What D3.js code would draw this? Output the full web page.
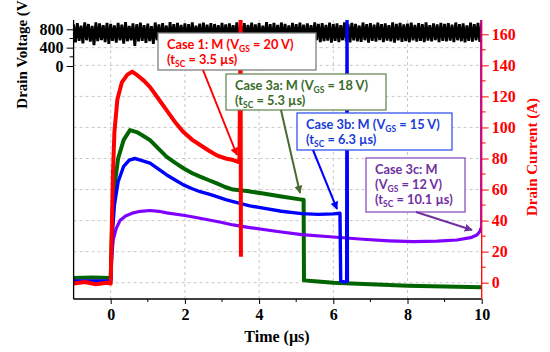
<!DOCTYPE html>
<html><head><meta charset="utf-8">
<script src="https://cdn.jsdelivr.net/npm/d3@7"></script>
<style>body{margin:0;background:#fff}svg{display:block}</style>
</head><body><svg id="c" width="550" height="352"></svg>
<script>
// ---------- data ----------
const xTicks = [0, 2, 4, 6, 8, 10];
const xMinor = [1, 3, 5, 7, 9];
const vTicks = [0, 400, 800];
const vMinor = [200, 600];
const iTicks = [0, 20, 40, 60, 80, 100, 120, 140, 160];
const iMinor = [10, 30, 50, 70, 90, 110, 130, 150];

// drain voltage trace, sampled every 0.05 us from -1 us
const vStart = -1, vStep = 0.05;
const voltage = [
905,515,935,550,880,495,950,562,915,530,872,455,952,540,928,565,892,522,942,482,
918,548,885,510,938,558,900,490,955,540,875,560,930,440,910,535,945,550,890,505,
925,545,870,480,948,562,905,525,935,540,882,498,958,555,912,515,940,570,895,535,
930,510,910,550,952,525,880,565,925,495,945,548,900,530,935,510,915,560,888,520,
942,552,905,505,928,568,890,535,950,515,915,550,935,525,898,562,946,518,908,540,
932,510,880,555,955,535,912,470,938,560,895,528,948,550,920,515,885,562,940,540,
910,525,946,558,900,510,930,550,888,532,952,565,918,520,936,545,895,555,944,510,
915,550,928,522,890,562,950,535,905,515,938,558,920,540,882,525,948,562,910,510,
935,548,900,530,945,565,912,520,930,552,888,535,952,510,918,560,940,525,905,545,
925,518,946,560,895,532,935,550,912,522,950,555,890,538,928,565,905,520,942,550,
918,535,936,555,900,520,948,562,912,540,930,515,885,550,945,530,910,562,938,525,920];

const case1T = [-1,-0.7,-0.4,-0.1,0,0.03,0.06,0.1,0.18,0.3,0.45,0.58,0.75,0.9,1.06,1.3,1.51,1.75,1.96,2.2,2.41,2.65,2.86,3.1,3.3,3.47,3.5,3.51];
const case1I = [-0.5,0.5,-1,0,-0.5,35,70,97,118,129,134,136,133,130,126,118,111,103,97,92,88.7,85,82,80,79,77.5,170,16.7];

const case3aT = [-1,-0.5,0,0.04,0.1,0.2,0.35,0.52,0.7,0.85,1.06,1.3,1.51,1.75,1.96,2.2,2.41,2.65,2.86,3.1,3.3,3.67,4.11,4.6,5.15,5.2,5.21,5.5,6,6.5,7,8,9,10];
const case3aI = [3,3.3,3,40,62,80,92,98.3,97,95,91.8,86,81,77,73.7,70.5,68.3,66,64,61.5,60,59,57.5,55.5,53.5,53.5,1.5,1,0,-0.5,-1,-2,-2.5,-3];

const case3bT = [-1,0,0.04,0.1,0.2,0.35,0.5,0.65,0.8,1.06,1.3,1.51,1.75,1.96,2.2,2.41,2.65,2.86,3.1,3.3,3.75,4.11,4.6,5.15,5.6,6.0,6.18,6.2,6.3,6.36,6.37,6.38];
const case3bI = [1,1,30,50,65,75,79,80,79,77,73,69.4,66,63,60.5,58.6,57,55.4,53.5,52.2,49.5,48,46,44.5,44,44.3,44.7,1,0.5,0.5,170,0.5];

const case3cT = [-1,0,0.03,0.07,0.15,0.25,0.4,0.61,0.8,1.06,1.3,1.51,2.0,2.41,3.0,3.3,3.75,4.5,5.15,5.91,6.8,7.5,8.16,8.8,9.33,9.7,9.87,9.95,10,10];
const case3cI = [1,1,18,28,35,40,43,45,46,46.5,46,45,43.3,41.5,38.8,37.2,35.5,33,31,29.6,28,27,26.4,26.8,27.5,29,30.7,33,36,170];

// ---------- layout ----------
const svg = d3.select('#c');
const L = 73.6, R = 481.7, T = 20, B = 299;
const x = d3.scaleLinear().domain([0, 10]).range([110.7, 481.7]);
const yI = d3.scaleLinear().domain([0, 160]).range([282.7, 34.3]);
const yV = d3.scaleLinear().domain([0, 800]).range([66, 29.3]);
const SERIF = "'Liberation Serif','Times New Roman',serif";
const SANS = "Lato,'Open Sans',sans-serif";

svg.append('defs').append('clipPath').attr('id','clip')
  .append('rect').attr('x', L).attr('y', T).attr('width', R - L).attr('height', B - T);

// grid
const grid = svg.append('g').attr('stroke', '#c8c8c8').attr('stroke-width', 1).attr('stroke-dasharray', '3,3');
iTicks.forEach(v => grid.append('line').attr('x1', L).attr('x2', R).attr('y1', yI(v)).attr('y2', yI(v)));
vTicks.filter(v => v === 400).forEach(v => grid.append('line').attr('x1', L).attr('x2', R).attr('y1', yV(v)).attr('y2', yV(v)));
xTicks.filter(v => v < 10).forEach(v => grid.append('line').attr('y1', T).attr('y2', B).attr('x1', x(v)).attr('x2', x(v)));

// traces
const plot = svg.append('g').attr('clip-path', 'url(#clip)');
const lineI = d3.line().x(d => x(d[0])).y(d => yI(d[1]));
const pairs = (t, v) => t.map((tt, i) => [tt, v[i]]);
const vData = voltage.map((v, i) => [vStart + i * vStep, v]);
plot.append('path').datum(vData).attr('fill', 'none').attr('stroke', '#000').attr('stroke-width', 2.8)
  .attr('d', d3.line().x(d => x(d[0])).y(d => yV(d[1])));
plot.append('path').datum(pairs(case3aT, case3aI)).attr('fill', 'none').attr('stroke', '#006400').attr('stroke-width', 4).attr('stroke-linejoin','round').attr('d', lineI);
plot.append('path').datum(pairs(case3cT, case3cI)).attr('fill', 'none').attr('stroke', '#8000ff').attr('stroke-width', 3.2).attr('stroke-linejoin','round').attr('d', lineI);
plot.append('path').datum(pairs(case3bT, case3bI)).attr('fill', 'none').attr('stroke', '#0000ff').attr('stroke-width', 3.4).attr('stroke-linejoin','round').attr('d', lineI);
plot.append('path').datum(pairs(case1T, case1I)).attr('fill', 'none').attr('stroke', '#ff0000').attr('stroke-width', 4).attr('stroke-linejoin','round').attr('d', lineI);

// axes
const ax = svg.append('g');
// left
ax.append('line').attr('x1', L).attr('x2', L).attr('y1', T).attr('y2', B).attr('stroke', '#000').attr('stroke-width', 1.3);
const left = d3.axisLeft(yV).tickValues(vTicks).tickSize(7).tickPadding(3).tickFormat(d3.format('d'));
const gl = ax.append('g').attr('transform', `translate(${L},0)`).call(left);
gl.select('.domain').remove();
gl.selectAll('text').attr('font-family', SERIF).attr('font-weight', 'bold').attr('font-size', 16).attr('fill', '#000');
vMinor.forEach(v => ax.append('line').attr('x1', L - 4).attr('x2', L).attr('y1', yV(v)).attr('y2', yV(v)).attr('stroke', '#000'));
// bottom
ax.append('line').attr('x1', L).attr('x2', R).attr('y1', B).attr('y2', B).attr('stroke', '#000').attr('stroke-width', 1.3);
const bottom = d3.axisBottom(x).tickValues(xTicks).tickSize(5).tickPadding(5).tickFormat(d3.format('d'));
const gb = ax.append('g').attr('transform', `translate(0,${B})`).call(bottom);
gb.select('.domain').remove();
gb.selectAll('text').attr('font-family', SERIF).attr('font-weight', 'bold').attr('font-size', 16).attr('fill', '#000');
xMinor.forEach(v => ax.append('line').attr('x1', x(v)).attr('x2', x(v)).attr('y1', B).attr('y2', B + 3).attr('stroke', '#000'));
// right
ax.append('line').attr('x1', R).attr('x2', R).attr('y1', T).attr('y2', B).attr('stroke', '#ff0000').attr('stroke-width', 1.3);
const right = d3.axisRight(yI).tickValues(iTicks).tickSize(7).tickPadding(3).tickFormat(d3.format('d'));
const gr = ax.append('g').attr('transform', `translate(${R},0)`).call(right);
gr.select('.domain').remove();
gr.selectAll('line').attr('stroke', '#ff0000');
gr.selectAll('text').attr('font-family', SERIF).attr('font-weight', 'bold').attr('font-size', 16).attr('fill', '#ff0000');
iMinor.forEach(v => ax.append('line').attr('x1', R).attr('x2', R + 4).attr('y1', yI(v)).attr('y2', yI(v)).attr('stroke', '#ff0000'));

// titles
svg.append('text').attr('x', 277).attr('y', 342).attr('text-anchor', 'middle')
  .attr('font-family', SERIF).attr('font-weight', 'bold').attr('font-size', 16).text('Time (µs)');
svg.append('text').attr('transform', 'translate(27,52) rotate(-90)').attr('text-anchor', 'middle')
  .attr('font-family', SERIF).attr('font-weight', 'bold').attr('font-size', 15).text('Drain Voltage (V)');
svg.append('text').attr('transform', 'translate(537,157) rotate(-90)').attr('text-anchor', 'middle')
  .attr('font-family', SERIF).attr('font-weight', 'bold').attr('font-size', 15).attr('fill', '#ff0000').text('Drain Current (A)');

// annotations
const defs = svg.select('defs');
function marker(id, color) {
  defs.append('marker').attr('id', id).attr('viewBox', '0 0 10 10').attr('refX', 9).attr('refY', 5)
    .attr('markerWidth', 4).attr('markerHeight', 4).attr('orient', 'auto')
    .append('path').attr('d', 'M0,0L10,5L0,10z').attr('fill', color);
}
const notes = [
  {color:'#ff0000', border:'#7f7f7f', box:[158,33,316,70], lines:[['Case 1: M (V','GS',' = 20 V)'],['(t','SC',' = 3.5 µs)']], arrow:[203,70,237,155], arrowColor:'#ff0000'},
  {color:'#3a6b2a', border:'#6b8a5a', box:[226,74,386,110], lines:[['Case 3a: M (V','GS',' = 18 V)'],['(t','SC',' = 5.3 µs)']], arrow:[281,110,300,193], arrowColor:'#4a6a30'},
  {color:'#1a3cd8', border:'#3355ee', box:[297,113,452,150], lines:[['Case 3b: M (V','GS',' = 15 V)'],['(t','SC',' = 6.3 µs)']], arrow:[313,150,337,209], arrowColor:'#0000ff'},
  {color:'#7030a0', border:'#8a50c0', box:[366,158,465,212], lines:[['Case 3c: M'],['(V','GS',' = 12 V)'],['(t','SC',' = 10.1 µs)']], arrow:[416,212,472,230], arrowColor:'#7030a0'}
];
notes.forEach((n, k) => {
  const [x0, y0, x1, y1] = n.box;
  svg.append('rect').attr('x', x0).attr('y', y0).attr('width', x1 - x0).attr('height', y1 - y0)
    .attr('fill', '#fff').attr('stroke', n.border).attr('stroke-width', 1.3);
  n.lines.forEach((ln, i) => {
    const t = svg.append('text').attr('x', x0 + 9).attr('y', y0 + 16 + i * 15)
      .attr('font-family', SANS).attr('font-weight', 'bold').attr('font-size', 12.8).attr('fill', n.color);
    t.append('tspan').text(ln[0]);
    if (ln.length > 1) {
      t.append('tspan').attr('font-size', 8.5).attr('dy', 2.5).text(ln[1]);
      t.append('tspan').attr('dy', -2.5).text(ln[2]);
    }
  });
  marker('m' + k, n.arrowColor);
  const [a0, b0, a1, b1] = n.arrow;
  svg.append('line').attr('x1', a0).attr('y1', b0).attr('x2', a1).attr('y2', b1)
    .attr('stroke', n.arrowColor).attr('stroke-width', 2).attr('marker-end', `url(#m${k})`);
});
</script></body></html>
